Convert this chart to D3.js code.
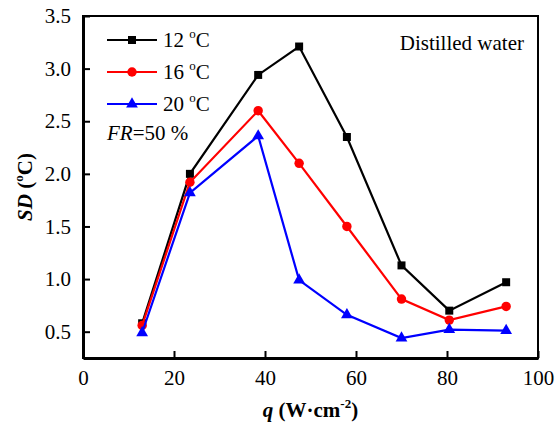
<!DOCTYPE html>
<html>
<head>
<meta charset="utf-8">
<script src="https://cdn.jsdelivr.net/npm/d3@7"></script>
<style>
  body { margin: 0; background: #fff; }
</style>
</head>
<body>
<div id="vis"></div>
<script>
// values
const q = [13, 23.5, 38.5, 47.5, 58, 70, 80.5, 93];
const sd12 = [0.58, 2.0, 2.94, 3.21, 2.35, 1.13, 0.70, 0.97];
const sd16 = [0.56, 1.92, 2.60, 2.10, 1.50, 0.81, 0.61, 0.74];
const sd20 = [0.49, 1.82, 2.36, 0.99, 0.66, 0.44, 0.52, 0.51];
const seriesNames = ['12', '16', '20'];
const xTicks = [0, 20, 40, 60, 80, 100];
const yTicks = [0.5, 1.0, 1.5, 2.0, 2.5, 3.0, 3.5];

const FONT = 'Liberation Serif';
const width = 556, height = 430;
const margin = { top: 16, right: 18, bottom: 72, left: 83 };

const svg = d3.select('#vis').append('svg')
  .attr('width', width)
  .attr('height', height);

const x = d3.scaleLinear([0, 100], [margin.left, width - margin.right]);
const y = d3.scaleLinear([0.25, 3.5], [height - margin.bottom, margin.top]);

const series = [
  { name: seriesNames[0], values: sd12, color: '#000000', symbol: d3.symbolSquare, size: 64 },
  { name: seriesNames[1], values: sd16, color: '#ff0000', symbol: d3.symbolCircle, size: 70 },
  { name: seriesNames[2], values: sd20, color: '#0000ff', symbol: d3.symbolTriangle, size: 60 }
];

// frame
svg.append('rect')
  .attr('x', x(0)).attr('y', y(3.5))
  .attr('width', x(100) - x(0)).attr('height', y(0.25) - y(3.5))
  .attr('fill', 'none').attr('stroke', '#000').attr('stroke-width', 2);

// axes, ticks inward
const xAxis = svg.append('g')
  .attr('transform', `translate(0,${y(0.25)})`)
  .call(d3.axisBottom(x).tickValues(xTicks).tickSizeInner(-7).tickSizeOuter(0).tickPadding(12));
const yAxis = svg.append('g')
  .attr('transform', `translate(${x(0)},0)`)
  .call(d3.axisLeft(y).tickValues(yTicks).tickFormat(d3.format('.1f')).tickSizeInner(-7).tickSizeOuter(0).tickPadding(12));

[xAxis, yAxis].forEach(g => {
  g.attr('font-family', FONT);
  g.select('.domain').attr('stroke-width', 3);
  g.selectAll('.tick line').attr('stroke-width', 2);
  g.selectAll('.tick text').attr('fill', '#000').style('font-size', '21px');
});

// lines and markers
const line = d3.line().x((d, i) => x(q[i])).y(d => y(d));
series.forEach(s => {
  svg.append('path')
    .attr('d', line(s.values))
    .attr('fill', 'none')
    .attr('stroke', s.color)
    .attr('stroke-width', 2.2);
  svg.selectAll(null)
    .data(s.values)
    .enter()
    .append('path')
    .attr('d', d3.symbol(s.symbol, s.size))
    .attr('transform', (d, i) => `translate(${x(q[i])},${y(d)})`)
    .attr('fill', s.color);
});

// legend
const legend = svg.append('g');
series.forEach((s, i) => {
  const ly = 40 + i * 32;
  legend.append('line')
    .attr('x1', 107).attr('x2', 157).attr('y1', ly).attr('y2', ly)
    .attr('stroke', s.color).attr('stroke-width', 2.2);
  legend.append('path')
    .attr('d', d3.symbol(s.symbol, s.size))
    .attr('transform', `translate(132,${ly})`)
    .attr('fill', s.color);
  const t = legend.append('text')
    .attr('x', 163).attr('y', ly + 7)
    .style('font-size', '21px');
  t.append('tspan').text(s.name + ' ');
  t.append('tspan').text('o').attr('dy', -9).style('font-size', '13px');
  t.append('tspan').text('C').attr('dy', 9);
});

const fr = svg.append('text')
  .attr('x', 107).attr('y', 140)
  .style('font-size', '21px');
fr.append('tspan').text('FR').style('font-style', 'italic');
fr.append('tspan').text('=50 %');

svg.append('text')
  .attr('x', 524).attr('y', 50)
  .attr('text-anchor', 'end')
  .style('font-size', '21px')
  .text('Distilled water');

// axis titles
const xt = svg.append('text')
  .attr('x', (x(0) + x(100)) / 2).attr('y', 417)
  .attr('text-anchor', 'middle')
  .style('font-size', '21px')
  .style('font-weight', 'bold');
xt.append('tspan').text('q').style('font-style', 'italic');
xt.append('tspan').text(' (W\u00b7cm');
xt.append('tspan').text('-2').attr('dy', -9).style('font-size', '13px');
xt.append('tspan').text(')').attr('dy', 9);

const yt = svg.append('text')
  .attr('transform', `translate(32,${(y(0.25) + y(3.5)) / 2}) rotate(-90)`)
  .attr('text-anchor', 'middle')
  .style('font-size', '21px')
  .style('font-weight', 'bold');
yt.append('tspan').text('SD').style('font-style', 'italic');
yt.append('tspan').text(' (');
yt.append('tspan').text('o').attr('dy', -9).style('font-size', '13px');
yt.append('tspan').text('C)').attr('dy', 9);

// serif everywhere
svg.selectAll('text, tspan').style('font-family', FONT);
</script>
</body>
</html>
